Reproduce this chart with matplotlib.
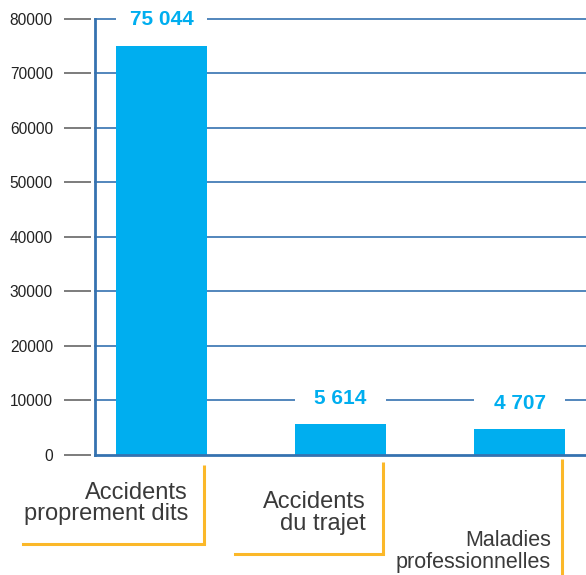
import matplotlib
matplotlib.use("Agg")
import matplotlib.pyplot as plt
import matplotlib.transforms as mtransforms
import numpy as np

categories = ["Accidents\nproprement dits", "Accidents\ndu trajet", "Maladies\nprofessionnelles"]
values = [75044, 5614, 4707]
value_labels = ["75 044", "5 614", "4 707"]
yticks = [0, 10000, 20000, 30000, 40000, 50000, 60000, 70000, 80000]

BAR = "#00aeef"
GRID = "#3572b0"
ORANGE = "#fbb829"
TEXT = "#3a3a3a"

plt.rcParams['font.family'] = ['Liberation Sans', 'DejaVu Sans']

fig = plt.figure(figsize=(5.86, 5.75), dpi=100)
W, H = 586, 575
ax = fig.add_axes([95 / W, 120 / H, 491 / W, (455 - 18.6) / H])

x = np.arange(len(categories))
ax.set_xlim(-0.3715, 2.371)
ax.set_ylim(0, 80000)

# gridlines
for t in yticks[1:]:
    ax.axhline(t, color=GRID, lw=1.2, zorder=1, clip_on=False)
ax.axhline(0, color=GRID, lw=2.0, zorder=5, clip_on=False)
ax.axvline(ax.get_xlim()[0], color=GRID, lw=2.0, zorder=5, clip_on=False)

# white masks to break gridlines behind labels
ax.bar(x, [8000] * len(values), bottom=values, width=0.51, color="white", zorder=2, clip_on=False)
ax.bar(x, values, width=0.51, color=BAR, zorder=3)

for xi, v, lab in zip(x, values, value_labels):
    ax.text(xi, v + 4700, lab, ha="center", va="center", color=BAR,
            fontsize=15, fontweight="bold", zorder=6, clip_on=False)

for s in ["top", "right", "bottom"]:
    ax.spines[s].set_visible(False)
ax.spines["left"].set_color("none")
ax.spines["left"].set_position(("outward", 2.9))
ax.set_yticks(yticks)
ax.set_yticklabels([str(t) for t in yticks])
ax.tick_params(axis="y", length=19.4, width=1.2, color="#666666", pad=8,
               labelsize=11.2, labelcolor="#222222")
ax.set_xticks([])

# category labels with orange brackets
trans = mtransforms.blended_transform_factory(ax.transData, ax.transAxes)
text_dx = [0.148, 0.142, 0.176]
text_y = [-0.112, -0.133, -0.221]
text_size = [17, 17, 15.5]
vline_y = [(-0.023, -0.204), (-0.016, -0.227), (-0.009, -0.30)]
hline_left = [-1.01, -0.827, None]
for xi, cat, dx, ty, fs, (y0, y1), hl in zip(x, categories, text_dx, text_y, text_size, vline_y, hline_left):
    ax.text(xi + dx, ty, cat, transform=trans, ha="right", va="center",
            fontsize=fs, color=TEXT, linespacing=0.95 if fs > 16 else 1.05, clip_on=False)
    vx = xi + 0.235
    ax.plot([vx, vx], [y0, y1], transform=trans, color=ORANGE, lw=2.2,
            clip_on=False, solid_capstyle="butt")
    if hl is not None:
        ax.plot([vx + hl, vx], [y1, y1], transform=trans, color=ORANGE, lw=2.2,
                clip_on=False, solid_capstyle="projecting")

fig.savefig("out.png", dpi=100)
